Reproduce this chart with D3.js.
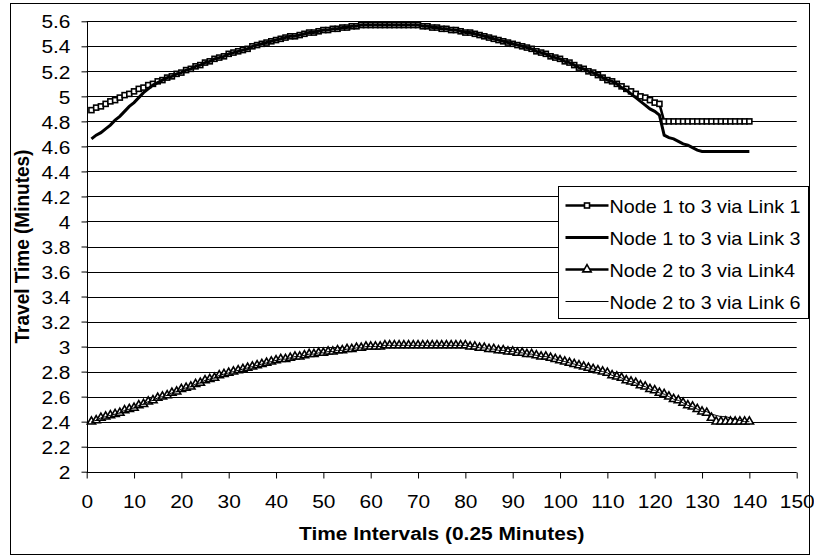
<!DOCTYPE html>
<html>
<head>
<meta charset="utf-8">
<script src="https://cdn.jsdelivr.net/npm/d3@7"></script>
<style>
  body { margin: 0; background: #fff; }
  svg { display: block; font-family: Arial, "Liberation Sans", sans-serif; }
</style>
</head>
<body>
<svg width="814" height="556"></svg>
<script>
// x categories: time intervals 1..140
const intervals = d3.range(1, 141);

// Node 1 to 3 via Link 1
const link1 = [
  4.89, 4.91, 4.92, 4.94, 4.96, 4.97, 4.99, 5.01, 5.02, 5.04,
  5.06, 5.07, 5.09, 5.10, 5.12, 5.13, 5.15, 5.16, 5.18, 5.19,
  5.21, 5.22, 5.24, 5.25, 5.27, 5.28, 5.30, 5.31, 5.32, 5.34,
  5.35, 5.36, 5.37, 5.38, 5.40, 5.41, 5.42, 5.43, 5.44, 5.45,
  5.46, 5.47, 5.48, 5.48, 5.49, 5.50, 5.51, 5.51, 5.52, 5.53,
  5.53, 5.54, 5.54, 5.55, 5.55, 5.56, 5.56, 5.57, 5.57, 5.57,
  5.57, 5.57, 5.57, 5.57, 5.57, 5.57, 5.57, 5.57, 5.57, 5.57,
  5.56, 5.56, 5.55, 5.55, 5.54, 5.54, 5.53, 5.53, 5.52, 5.51,
  5.51, 5.50, 5.49, 5.48, 5.47, 5.46, 5.45, 5.44, 5.43, 5.42,
  5.41, 5.40, 5.39, 5.38, 5.36, 5.35, 5.34, 5.32, 5.31, 5.30,
  5.28, 5.27, 5.25, 5.23, 5.22, 5.20, 5.19, 5.17, 5.15, 5.13,
  5.12, 5.10, 5.08, 5.06, 5.04, 5.02, 5.00, 4.99, 4.97, 4.95,
  4.94, 4.80, 4.80, 4.80, 4.80, 4.80, 4.80, 4.80, 4.80, 4.80,
  4.80, 4.80, 4.80, 4.80, 4.80, 4.80, 4.80, 4.80, 4.80, 4.80
];

// Node 1 to 3 via Link 3
const link3 = [
  4.66, 4.69, 4.71, 4.74, 4.77, 4.81, 4.84, 4.88, 4.92, 4.95,
  4.99, 5.03, 5.06, 5.09, 5.11, 5.13, 5.15, 5.16, 5.18, 5.19,
  5.21, 5.22, 5.24, 5.25, 5.27, 5.28, 5.30, 5.31, 5.32, 5.34,
  5.35, 5.36, 5.37, 5.38, 5.40, 5.41, 5.42, 5.43, 5.44, 5.45,
  5.46, 5.47, 5.48, 5.48, 5.49, 5.50, 5.51, 5.51, 5.52, 5.53,
  5.53, 5.54, 5.54, 5.55, 5.55, 5.56, 5.56, 5.57, 5.57, 5.57,
  5.57, 5.57, 5.57, 5.57, 5.57, 5.57, 5.57, 5.57, 5.57, 5.57,
  5.56, 5.56, 5.55, 5.55, 5.54, 5.54, 5.53, 5.53, 5.52, 5.51,
  5.51, 5.50, 5.49, 5.48, 5.47, 5.46, 5.45, 5.44, 5.43, 5.42,
  5.41, 5.40, 5.39, 5.38, 5.36, 5.35, 5.34, 5.32, 5.31, 5.30,
  5.28, 5.27, 5.25, 5.23, 5.22, 5.20, 5.19, 5.17, 5.15, 5.13,
  5.12, 5.10, 5.07, 5.05, 5.02, 4.99, 4.96, 4.93, 4.90, 4.88,
  4.85, 4.69, 4.67, 4.66, 4.64, 4.62, 4.61, 4.59, 4.57, 4.56,
  4.56, 4.56, 4.56, 4.56, 4.56, 4.56, 4.56, 4.56, 4.56, 4.56
];

// Node 2 to 3 via Link4
const link4 = [
  2.40, 2.41, 2.43, 2.44, 2.45, 2.46, 2.47, 2.49, 2.50, 2.51,
  2.53, 2.54, 2.56, 2.57, 2.59, 2.60, 2.61, 2.63, 2.64, 2.66,
  2.67, 2.68, 2.70, 2.71, 2.73, 2.74, 2.75, 2.77, 2.78, 2.79,
  2.80, 2.81, 2.82, 2.83, 2.84, 2.85, 2.86, 2.87, 2.88, 2.89,
  2.90, 2.90, 2.91, 2.92, 2.92, 2.93, 2.94, 2.94, 2.95, 2.95,
  2.96, 2.96, 2.97, 2.97, 2.98, 2.98, 2.99, 2.99, 3.00, 3.00,
  3.00, 3.00, 3.01, 3.01, 3.01, 3.01, 3.01, 3.01, 3.01, 3.01,
  3.01, 3.01, 3.01, 3.01, 3.01, 3.01, 3.01, 3.01, 3.01, 3.01,
  3.00, 3.00, 2.99, 2.99, 2.98, 2.98, 2.97, 2.97, 2.96, 2.96,
  2.95, 2.95, 2.94, 2.94, 2.93, 2.92, 2.92, 2.91, 2.90, 2.89,
  2.88, 2.87, 2.86, 2.85, 2.84, 2.83, 2.82, 2.81, 2.80, 2.79,
  2.77, 2.76, 2.75, 2.73, 2.72, 2.71, 2.69, 2.68, 2.66, 2.65,
  2.63, 2.62, 2.60, 2.58, 2.57, 2.55, 2.53, 2.52, 2.50, 2.48,
  2.47, 2.43, 2.40, 2.40, 2.40, 2.40, 2.40, 2.40, 2.40, 2.40
];

// Node 2 to 3 via Link 6
const link6 = [
  2.40, 2.41, 2.43, 2.44, 2.45, 2.46, 2.47, 2.49, 2.50, 2.51,
  2.53, 2.54, 2.56, 2.57, 2.59, 2.60, 2.61, 2.63, 2.64, 2.66,
  2.67, 2.68, 2.70, 2.71, 2.73, 2.74, 2.75, 2.77, 2.78, 2.79,
  2.80, 2.81, 2.82, 2.83, 2.84, 2.85, 2.86, 2.87, 2.88, 2.89,
  2.90, 2.90, 2.91, 2.92, 2.92, 2.93, 2.94, 2.94, 2.95, 2.95,
  2.96, 2.96, 2.97, 2.97, 2.98, 2.98, 2.99, 2.99, 3.00, 3.00,
  3.00, 3.00, 3.01, 3.01, 3.01, 3.01, 3.01, 3.01, 3.01, 3.01,
  3.01, 3.01, 3.01, 3.01, 3.01, 3.01, 3.01, 3.01, 3.01, 3.01,
  3.00, 3.00, 2.99, 2.99, 2.98, 2.98, 2.97, 2.97, 2.96, 2.96,
  2.95, 2.95, 2.94, 2.94, 2.93, 2.92, 2.92, 2.91, 2.90, 2.89,
  2.88, 2.87, 2.86, 2.85, 2.84, 2.83, 2.82, 2.81, 2.80, 2.79,
  2.77, 2.76, 2.75, 2.73, 2.72, 2.71, 2.69, 2.68, 2.66, 2.65,
  2.63, 2.62, 2.60, 2.58, 2.57, 2.55, 2.53, 2.52, 2.50, 2.48,
  2.48, 2.46, 2.45, 2.44, 2.44, 2.43, 2.42, 2.41, 2.40, 2.40
];

const seriesNames = [
  'Node 1 to 3 via Link 1',
  'Node 1 to 3 via Link 3',
  'Node 2 to 3 via Link4',
  'Node 2 to 3 via Link 6'
];

const xTicks = d3.range(0, 151, 10);
const yTicks = d3.range(2, 5.61, 0.2);

const svg = d3.select('svg');
const sx = 1.1; // the chart text is a bit wider than plain Arial

// outer frame
svg.append('rect')
  .attr('x', 10.5).attr('y', 3.5)
  .attr('width', 799).attr('height', 551)
  .attr('fill', '#fff').attr('stroke', '#000');

const x = d3.scaleLinear().domain([0, 150]).range([86.7, 796.7]);
const y = d3.scaleLinear().domain([2, 5.6]).range([471.7, 21.3]);

// gridlines
svg.append('g')
  .selectAll('line')
  .data(yTicks.slice(1))
  .join('line')
  .attr('x1', x(0)).attr('x2', x(150))
  .attr('y1', d => Math.round(y(d)) + 0.5)
  .attr('y2', d => Math.round(y(d)) + 0.5)
  .attr('stroke', '#000');

// y axis
const yAxis = svg.append('g')
  .attr('transform', `translate(${Math.round(x(0)) + 0.5},0)`)
  .call(d3.axisLeft(y).tickValues(yTicks).tickSize(6).tickFormat(d => +d.toFixed(1)));
yAxis.select('.domain').attr('d', `M0,${y(5.6)}V${Math.round(y(2)) + 0.5}`);
yAxis.selectAll('.tick line').attr('stroke', '#000');
yAxis.selectAll('.tick text')
  .attr('x', 0).attr('dy', '0.35em')
  .attr('transform', `translate(-17,0) scale(${sx},1)`)
  .attr('font-size', 19).attr('fill', '#000');

// x axis
const xAxis = svg.append('g')
  .attr('transform', `translate(0,${Math.round(y(2)) + 0.5})`)
  .call(d3.axisBottom(x).tickValues(xTicks).tickSize(6));
xAxis.select('.domain').attr('d', `M${x(0)},0H${x(150)}`);
xAxis.selectAll('.tick line').attr('stroke', '#000');
xAxis.selectAll('.tick text')
  .attr('y', 36).attr('dy', 0)
  .attr('transform', `scale(${sx},1)`)
  .attr('font-size', 19).attr('fill', '#000');
xAxis.selectAll('.domain').attr('stroke', '#000');
yAxis.selectAll('.domain').attr('stroke', '#000');

// axis titles
svg.append('text')
  .attr('transform', `translate(${(x(0) + x(150)) / 2},540) scale(${sx},1)`)
  .attr('text-anchor', 'middle')
  .attr('font-size', 19).attr('font-weight', 'bold')
  .text('Time Intervals (0.25 Minutes)');

svg.append('text')
  .attr('transform', `translate(29,${(y(2) + y(5.6)) / 2}) rotate(-90) scale(1,${sx})`)
  .attr('text-anchor', 'middle')
  .attr('font-size', 19).attr('font-weight', 'bold')
  .text('Travel Time (Minutes)');

// series
const line = d3.line().x((d, i) => x(intervals[i])).y(d => y(d));
const plot = svg.append('g');

const tri = d3.symbol().type(d3.symbolTriangle).size(30);

plot.append('path').datum(link1)
  .attr('d', line).attr('fill', 'none').attr('stroke', '#000').attr('stroke-width', 2.5);
plot.append('g').selectAll('rect').data(link1).join('rect')
  .attr('x', (d, i) => x(intervals[i]) - 2.5).attr('y', d => y(d) - 2.5)
  .attr('width', 5).attr('height', 5)
  .attr('fill', '#fff').attr('stroke', '#000').attr('stroke-width', 1.6);

plot.append('path').datum(link3)
  .attr('d', line).attr('fill', 'none').attr('stroke', '#000').attr('stroke-width', 3);

plot.append('path').datum(link4)
  .attr('d', line).attr('fill', 'none').attr('stroke', '#000').attr('stroke-width', 2.5);
plot.append('g').selectAll('path').data(link4).join('path')
  .attr('d', tri)
  .attr('transform', (d, i) => `translate(${x(intervals[i])},${y(d)})`)
  .attr('fill', '#fff').attr('stroke', '#000').attr('stroke-width', 1.6);

plot.append('path').datum(link6)
  .attr('d', line).attr('fill', 'none').attr('stroke', '#000').attr('stroke-width', 1);

// legend
const legend = svg.append('g').attr('transform', 'translate(558.5,186.5)');
legend.append('rect')
  .attr('width', 250).attr('height', 132)
  .attr('fill', '#fff').attr('stroke', '#000');

const rowY = [19, 51, 83, 115];
const rows = legend.selectAll('g.row').data(seriesNames).join('g')
  .attr('class', 'row')
  .attr('transform', (d, i) => `translate(0,${rowY[i]})`);

rows.append('line')
  .attr('x1', 7).attr('x2', 50).attr('y1', 0).attr('y2', 0)
  .attr('stroke', '#000')
  .attr('stroke-width', (d, i) => [2.5, 3, 2.5, 1][i]);

rows.filter((d, i) => i === 0).append('rect')
  .attr('x', 26).attr('y', -2.5).attr('width', 5).attr('height', 5)
  .attr('fill', '#fff').attr('stroke', '#000').attr('stroke-width', 1.6);
rows.filter((d, i) => i === 2).append('path')
  .attr('d', tri).attr('transform', 'translate(28.5,0)')
  .attr('fill', '#fff').attr('stroke', '#000').attr('stroke-width', 1.6);

rows.append('text')
  .attr('transform', `translate(51,7) scale(1.04,1)`)
  .attr('font-size', 19)
  .text(d => d);
</script>
</body>
</html>
